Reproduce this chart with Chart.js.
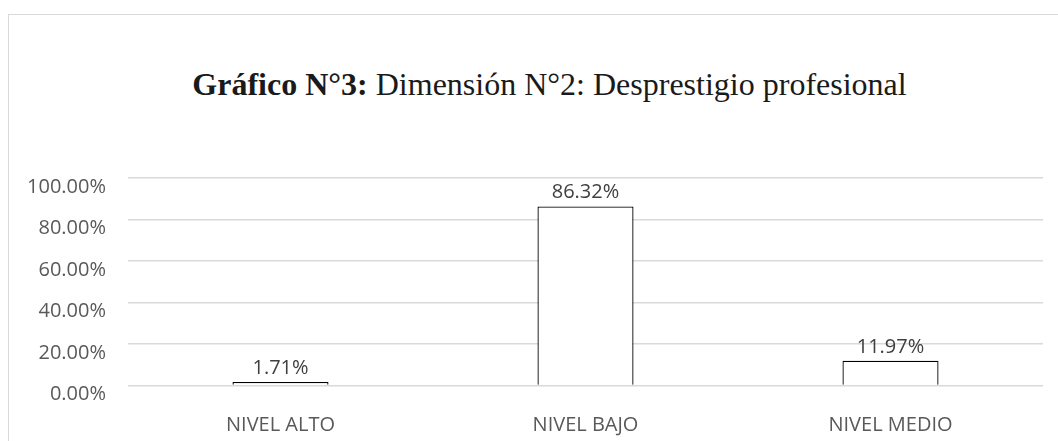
<!DOCTYPE html>
<html>
<head>
<meta charset="utf-8">
<script src="https://cdn.jsdelivr.net/npm/chart.js@4"></script>
<style>
  body { margin: 0; width: 1058px; height: 441px; overflow: hidden; background: #fff; position: relative; }
  #frame { position: absolute; left: 8px; top: 14px; width: 1100px; height: 500px; border: 1px solid #d9d9d9; box-sizing: border-box; }
  #title { position: absolute; left: 8px; width: 1083px; top: 66px; text-align: center; font-family: "Liberation Serif", serif; font-size: 32px; color: #1a1a1a; white-space: nowrap; line-height: 36px; }
  #chart { position: absolute; left: 0; top: 0; }
</style>
</head>
<body>
<div id="frame"></div>
<div id="title"><b>Gráfico N°3:</b> Dimensión N°2: Desprestigio profesional</div>
<canvas id="chart" width="1058" height="441"></canvas>
<script>
const categories = ["NIVEL ALTO", "NIVEL BAJO", "NIVEL MEDIO"];
const percents = [1.71, 86.32, 11.97];
const yTicks = [0, 20, 40, 60, 80, 100];

const labelFont = '"Open Sans", sans-serif';

// value labels above each bar
const barLabels = {
  id: "barLabels",
  afterDatasetsDraw(chart) {
    const ctx = chart.ctx;
    ctx.save();
    ctx.font = "20px " + labelFont;
    ctx.fillStyle = "#404040";
    ctx.textAlign = "center";
    ctx.textBaseline = "alphabetic";
    chart.getDatasetMeta(0).data.forEach((bar, i) => {
      ctx.fillText(percents[i].toFixed(2) + "%", bar.x, bar.y - 8);
    });
    ctx.restore();
  },
};

new Chart(document.getElementById("chart"), {
  type: "bar",
  data: {
    labels: categories,
    datasets: [
      {
        data: percents,
        backgroundColor: "#ffffff",
        borderColor: "#000000",
        borderWidth: 1.3,
        categoryPercentage: 1,
        barPercentage: 0.315,
      },
    ],
  },
  options: {
    responsive: false,
    animation: false,
    layout: { padding: { top: 178, right: 15, left: 0, bottom: 0 } },
    plugins: { legend: { display: false }, tooltip: { enabled: false } },
    scales: {
      x: {
        grid: { display: false, drawTicks: false },
        border: { display: false },
        ticks: { color: "#595959", font: { family: labelFont, size: 20 }, padding: 28 },
        afterFit(scale) { scale.height = 55.5; },
      },
      y: {
        min: 0,
        max: 100,
        afterBuildTicks(scale) { scale.ticks = yTicks.map((v) => ({ value: v })); },
        grid: { color: "#d9d9d9", lineWidth: 1.5, drawTicks: false },
        border: { display: false },
        ticks: {
          color: "#595959",
          font: { family: labelFont, size: 20 },
          padding: 22,
          labelOffset: 9,
          callback: (v) => v.toFixed(2) + "%",
        },
        afterFit(scale) { scale.width = 128; },
      },
    },
  },
  plugins: [barLabels],
});
</script>
</body>
</html>
